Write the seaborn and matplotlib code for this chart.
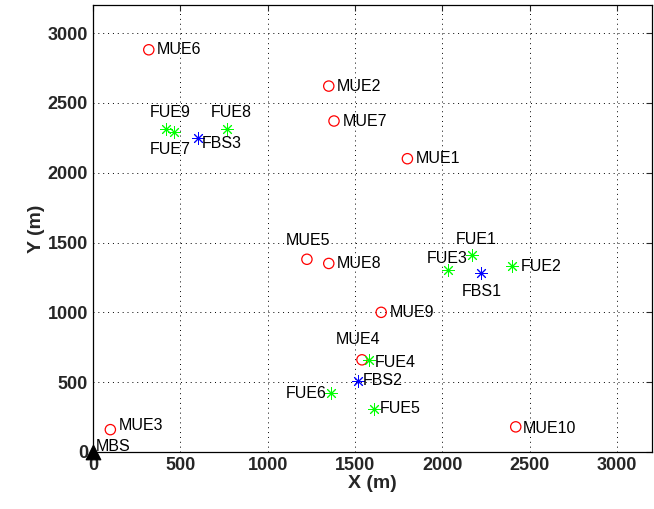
import matplotlib
matplotlib.use("Agg")
import matplotlib.pyplot as plt
import seaborn as sns
import pandas as pd

# macro users (red circles)
mue_names = ["MUE1", "MUE2", "MUE3", "MUE4", "MUE5", "MUE6", "MUE7", "MUE8", "MUE9", "MUE10"]
mue_x = [1800, 1350, 100, 1540, 1225, 320, 1380, 1350, 1650, 2420]
mue_y = [2100, 2620, 160, 660, 1380, 2880, 2370, 1350, 1000, 180]

# femto users (green asterisks)
fue_names = ["FUE1", "FUE2", "FUE3", "FUE4", "FUE5", "FUE6", "FUE7", "FUE8", "FUE9"]
fue_x = [2170, 2400, 2030, 1580, 1610, 1360, 465, 770, 420]
fue_y = [1410, 1330, 1300, 660, 310, 420, 2290, 2310, 2310]

# femto base stations (blue asterisks)
fbs_names = ["FBS1", "FBS2", "FBS3"]
fbs_x = [2220, 1520, 600]
fbs_y = [1280, 510, 2250]

# macro base station
mbs_x = [0]
mbs_y = [0]

# label offsets in points (dx, dy, ha, va)
offsets = {
    "MUE1": (6, 0, "left", "center"), "MUE2": (6, 0, "left", "center"),
    "MUE3": (6, 3, "left", "center"), "MUE4": (-3, 9, "center", "bottom"),
    "MUE5": (1, 8, "center", "bottom"), "MUE6": (6, 0, "left", "center"),
    "MUE7": (6, 0, "left", "center"), "MUE8": (6, 0, "left", "center"),
    "MUE9": (6, 0, "left", "center"), "MUE10": (5, -1, "left", "center"),
    "FUE1": (3, 6, "center", "bottom"), "FUE2": (6, 0, "left", "center"),
    "FUE3": (0, 3, "center", "bottom"), "FUE4": (4, -2, "left", "center"),
    "FUE5": (4, 0, "left", "center"), "FUE6": (-3, 0, "right", "center"),
    "FUE7": (-3, -7, "center", "top"), "FUE8": (3, 7, "center", "bottom"),
    "FUE9": (3, 7, "center", "bottom"), "FBS1": (1, -8, "center", "top"),
    "FBS2": (3, 0, "left", "center"), "FBS3": (3, -4, "left", "center"),
    "MBS": (2, 4, "left", "center"),
}

sns.set_style("white")
plt.rcParams["font.family"] = ["Liberation Sans", "DejaVu Sans"]

fig = plt.figure(figsize=(6.54, 5.09), dpi=100)
ax = fig.add_axes([0.142, 0.112, 0.855, 0.878])

star8 = (8, 2, 0)
sns.scatterplot(x=mue_x, y=mue_y, ax=ax, marker="o", s=55, facecolor="none",
                edgecolor="red", linewidth=0.9, zorder=3)
sns.scatterplot(x=fue_x, y=fue_y, ax=ax, marker=star8, s=70, color=(0, 1, 0),
                linewidth=0.7, zorder=3)
sns.scatterplot(x=fbs_x, y=fbs_y, ax=ax, marker=star8, s=70, color=(0, 0, 1),
                linewidth=0.7, zorder=3)
sns.scatterplot(x=mbs_x, y=mbs_y, ax=ax, marker="^", s=110, color="black",
                edgecolor="black", zorder=4, clip_on=False)

for names, xs, ys in [(mue_names, mue_x, mue_y), (fue_names, fue_x, fue_y),
                      (fbs_names, fbs_x, fbs_y), (["MBS"], mbs_x, mbs_y)]:
    for n, x, y in zip(names, xs, ys):
        dx, dy, ha, va = offsets[n]
        ax.annotate(n, (x, y), xytext=(dx, dy), textcoords="offset points",
                    ha=ha, va=va, fontsize=11.5, color="black")

ax.set_xlim(0, 3200)
ax.set_ylim(0, 3200)
ax.set_xticks(range(0, 3001, 500))
ax.set_yticks(range(0, 3001, 500))
ax.grid(True, color="black", linestyle=(0, (1, 4)), linewidth=0.7)
ax.tick_params(direction="in", length=4, width=0.8, labelsize=13, top=True, right=True)
for lab in ax.get_xticklabels() + ax.get_yticklabels():
    lab.set_fontweight("bold")
for sp in ax.spines.values():
    sp.set_color("black")
    sp.set_linewidth(0.9)
ax.set_xlabel("X (m)", fontsize=14, fontweight="bold", labelpad=1)
ax.set_ylabel("Y (m)", fontsize=14, fontweight="bold", labelpad=2)

fig.savefig("out.png", dpi=100)
